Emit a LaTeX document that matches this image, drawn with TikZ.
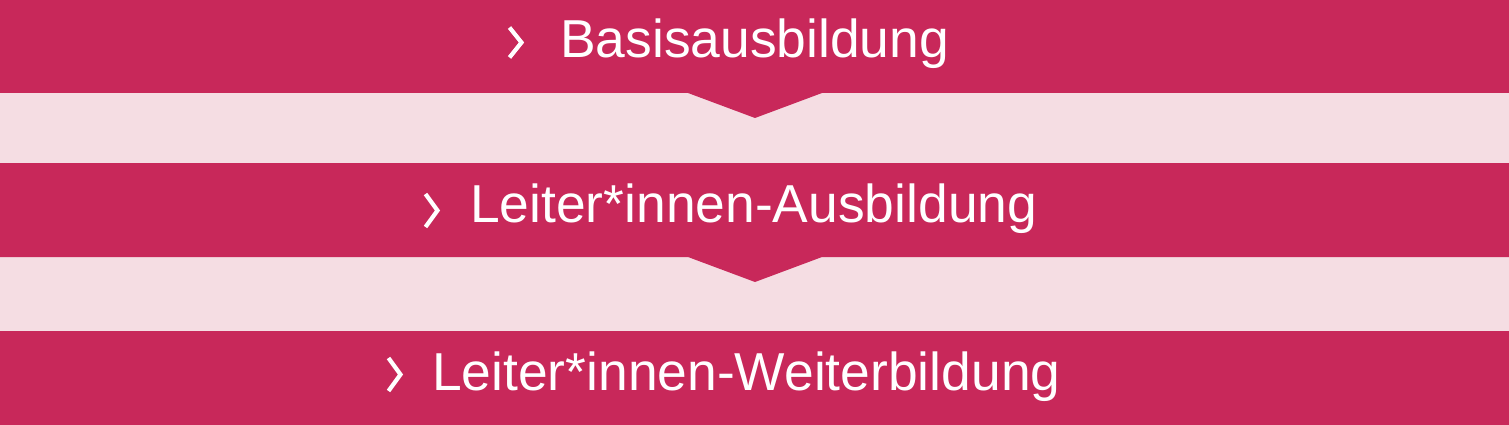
\documentclass[tikz,border=0pt]{standalone}
\usepackage{fontspec}
\setmainfont{Liberation Sans}
\definecolor{bandred}{RGB}{200,40,90}
\definecolor{bandpink}{RGB}{245,221,227}
\begin{document}
\begin{tikzpicture}[x=1pt,y=-1pt,
  label text/.style={anchor=base west,inner sep=0pt,text=white,font=\fontsize{53.4}{60}\selectfont},
  chev/.style={draw=white,line width=4.2pt,line cap=butt,line join=miter}]
\useasboundingbox (0,0) rectangle (1509,425);
\fill[bandpink] (0,0) rectangle (1509,425);
% top band with notch
\fill[bandred] (0,0) -- (1509,0) -- (1509,93) -- (822,93) -- (755,118) -- (688,93) -- (0,93) -- cycle;
% middle band with notch
\fill[bandred] (0,163) -- (1509,163) -- (1509,257) -- (822,257) -- (755,282) -- (688,257) -- (0,257) -- cycle;
% bottom band
\fill[bandred] (0,331) rectangle (1509,425);
% texts
\node[label text] (t1) at (560,57.3) {Basisausbildung};
\node[label text] (t2) at (470,222.3) {Leiter*innen-Ausbildung};
\node[label text] (t3) at (432,390) {Leiter*innen-Weiterbildung};
% chevrons
\draw[chev] (509.5,27.5) -- (521.5,42.5) -- (509.5,57.5);
\draw[chev] (425.5,194) -- (437.5,210.5) -- (425.5,227);
\draw[chev] (388.5,358) -- (400.5,374.5) -- (388.5,391);
\end{tikzpicture}
\end{document}
